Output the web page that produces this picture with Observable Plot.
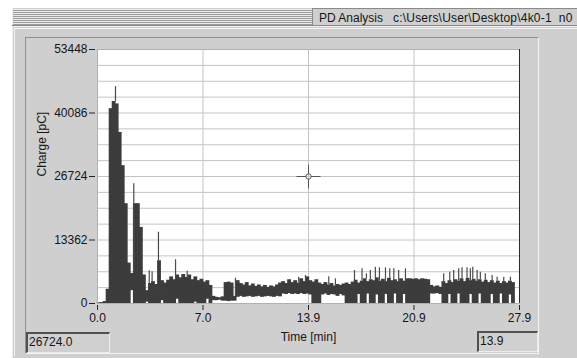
<!DOCTYPE html>
<html><head><meta charset="utf-8">
<script src="https://cdn.jsdelivr.net/npm/d3@7"></script>
<script src="https://cdn.jsdelivr.net/npm/@observablehq/plot@0.6"></script>
<style>
html,body{margin:0;padding:0;background:#fff;width:577px;height:358px;overflow:hidden;font-family:"Liberation Sans",Arial,sans-serif;color:#151515;}
.abs{position:absolute;box-sizing:border-box;}
.readout{background:#d0d0d0;border-top:2px solid #505050;border-left:2px solid #505050;border-right:1px solid #ececec;border-bottom:1px solid #ececec;font-size:12px;line-height:17px;padding-left:1px;color:#151515;}
</style></head><body>
<div class="abs" style="left:12px;top:8px;width:565px;height:350px;background:#cfcfcf;border-left:1px solid #ededed;"></div>
<div class="abs" style="left:13px;top:9px;width:299px;height:16px;background:repeating-linear-gradient(to bottom,#ebebeb 0 1px,#9c9c9c 1px 2px);"></div>
<div class="abs" style="left:312px;top:8px;width:265px;height:18px;border-left:1px solid #8a8a8a;border-top:1px solid #8a8a8a;background:#cfcfcf;overflow:hidden;white-space:pre;font-size:12px;line-height:14px;">
  <span class="abs" id="t1" style="left:6px;top:2px;"></span><span class="abs" id="t2" style="left:80px;top:2px;letter-spacing:0.2px;"></span>
</div>
<div class="abs" style="left:12px;top:25px;width:565px;height:1px;background:#8a8a8a;"></div>
<div class="abs" style="left:12px;top:26px;width:565px;height:1px;background:#f0f0f0;"></div>
<div class="abs" style="left:14px;top:28px;width:563px;height:328px;border-left:1px solid #f3f3f3;border-top:1px solid #f3f3f3;"></div>
<div class="abs" style="left:25px;top:37px;width:514px;height:317px;border-top:1px solid #8e8e8e;border-left:1px solid #8e8e8e;border-right:1px solid #f3f3f3;border-bottom:1px solid #f3f3f3;"></div>
<div id="chart" class="abs" style="left:0;top:0;"></div>
<div class="abs readout" id="r1" style="left:26px;top:332px;width:84px;height:21px;"></div>
<div class="abs readout" id="r2" style="left:477px;top:331px;width:61px;height:21px;"></div>
<script>
// ---- data ----
const windowTitle = "PD Analysis";
const filePath = "c:\\Users\\User\\Desktop\\4k0-1  n0";
const xLabel = "Time [min]";
const yLabel = "Charge [pC]";
const xTicks = [0, 6.975, 13.95, 20.925, 27.9];
const xTickLabels = ["0.0", "7.0", "13.9", "20.9", "27.9"];
const yTicks = [0, 13362, 26724, 40086, 53448];
const yTickLabels = ["0", "13362", "26724", "40086", "53448"];
const yMinorDivisions = 16;
const binWidth = 0.2; // minutes per bin
// upper edge of charge envelope per bin [pC]
const chargeHigh = [
150,200,400,3000,41000,42500,42000,36000,29000,21000,
8500,6300,21000,21000,16000,6000,2700,4200,4600,4000,
9000,4800,4300,4900,5600,5000,6000,5400,6100,5500,
6000,5000,5600,4800,5100,4500,4800,3800,1500,1300,
1200,1400,4400,4500,4300,1500,4800,4200,3900,4400,
3700,4100,3600,3900,3500,3800,3400,3700,3500,3900,
4300,4600,4200,5000,4400,4800,4300,5200,4600,5600,
4800,4500,5000,4300,4000,4400,3900,4200,3700,4000,
3800,4100,4300,4000,4500,4900,4300,4700,5200,4600,
5000,4800,5400,4700,5100,4600,5300,4800,5000,4600,
5200,4700,5200,5200,5100,5200,5000,5200,5100,5000,
3800,3500,3700,3400,4600,4200,4800,4400,5000,4700,
5200,4600,5300,4800,5100,4700,5000,4500,4900,4400,
4800,4300,4700,4200,4600,4300,4700,4400
];
// lower edge of charge envelope per bin [pC]
const chargeLow = [
0,0,0,0,0,0,0,0,0,0,
0,2700,0,0,0,0,300,0,0,0,
0,600,0,0,0,0,900,0,0,0,
0,0,300,0,0,0,900,0,600,600,
700,500,500,400,500,500,1300,1500,1300,1400,
1500,1300,1400,1500,1300,1400,1500,1400,1300,1500,
1400,2000,1900,2100,1900,2000,1900,2100,1900,2000,
1800,0,0,0,1800,2000,1700,1900,1800,1500,
1900,1600,0,0,0,0,1900,0,0,2000,
0,0,1800,0,0,1900,0,0,2000,0,
0,1900,0,0,0,0,0,0,0,0,
2000,2000,2100,1900,0,0,1900,0,0,2000,
0,0,0,1900,0,0,2000,0,0,0,
1900,0,0,2000,0,0,1800,0
];
// isolated narrow spikes
const spikeTime = [1.19,1.56,2.40,3.42,3.61,4.03,5.16,5.93,9.12,13.3,13.75,15.29,15.73,16.99,17.49,17.78,18.04,18.37,18.64,19.04,19.32,19.59,19.91,20.36,22.89,23.29,23.55,23.88,24.1,24.43,24.65,24.81,25.1,25.31,25.64,26.09,26.42,26.86,27.3];
const spikeCharge = [45650,35000,25200,6900,6700,15000,9200,6800,5300,5540,5890,5650,5190,6940,7290,6240,6940,7640,7500,7500,7290,7290,6940,7290,6240,6590,6940,7290,7500,7500,7290,7640,6940,6590,6240,5890,5540,5540,5540];
const cursorTime = 13.95;
const cursorCharge = 26724;

// ---- build ----
const bins = chargeHigh.map((h, i) => ({t0: i * binWidth, t1: (i + 1) * binWidth, hi: h, lo: chargeLow[i]}));
const spikes = spikeTime.map((t, i) => {
  const b = bins[Math.min(bins.length - 1, Math.floor(t / binWidth))];
  return {t, v: spikeCharge[i], base: Math.min(b.hi, spikeCharge[i])};
});
const yGrid = d3.range(yMinorDivisions + 1).map(i => i * yTicks[yTicks.length - 1] / yMinorDivisions);
const xFmt = new Map(xTicks.map((d, i) => [d, xTickLabels[i]]));
const yFmt = new Map(yTicks.map((d, i) => [d, yTickLabels[i]]));
const xMax = xTicks[xTicks.length - 1];
const crosshair = {draw(ctx) {
  ctx.moveTo(2.7, 0); ctx.arc(0, 0, 2.7, 0, 2 * Math.PI);
  ctx.moveTo(2.7, 0); ctx.lineTo(12, 0);
  ctx.moveTo(-2.7, 0); ctx.lineTo(-12, 0);
  ctx.moveTo(0, 2.7); ctx.lineTo(0, 12);
  ctx.moveTo(0, -2.7); ctx.lineTo(0, -12);
}};

const chart = Plot.plot({
  width: 577, height: 358,
  marginLeft: 97, marginRight: 58, marginTop: 49, marginBottom: 55,
  x: {domain: [0, xMax]},
  y: {domain: [0, yTicks[yTicks.length - 1]]},
  style: {background: "transparent", fontFamily: "'Liberation Sans',Arial,sans-serif", fontSize: "12px", color: "#151515", overflow: "visible"},
  marks: [
    Plot.frame({fill: "white", stroke: null}),
    Plot.ruleY(yGrid, {stroke: "#c4c4c4", strokeOpacity: 1}),
    Plot.ruleX(xTicks.slice(1, -1), {stroke: "#c4c4c4", strokeOpacity: 1}),
    Plot.rect(bins, {x1: "t0", x2: "t1", y1: "lo", y2: "hi", fill: "#3c3c3c", insetLeft: -0.4, insetRight: -0.4}),
    Plot.ruleX(spikes, {x: "t", y1: "base", y2: "v", stroke: "#4a4a4a", strokeWidth: 1.2}),
    Plot.frame({stroke: "#b0b0b0"}),
    Plot.ruleX([xMax], {stroke: "#2a2a2a"}),
    Plot.dot([{t: cursorTime, q: cursorCharge}], {x: "t", y: "q", symbol: crosshair, r: 3, stroke: "#555", fill: "none", strokeWidth: 1}),
    Plot.axisY({ticks: yTicks, tickFormat: d => yFmt.get(d), tickSize: 6, tickPadding: 2, dx: -2, label: null, fontSize: 12, stroke: "#222"}),
    Plot.axisX({ticks: xTicks, tickFormat: d => xFmt.get(d), tickSize: 5, tickPadding: 3, dy: 2, label: null, fontSize: 12, stroke: "#222"}),
    Plot.text([yLabel], {frameAnchor: "left", dx: -55, rotate: -90, fontSize: 12, fill: "#151515"}),
    Plot.text([xLabel], {frameAnchor: "bottom", dy: 37, fontSize: 12, fill: "#151515"})
  ]
});
document.getElementById("chart").appendChild(chart);
document.getElementById("t1").textContent = windowTitle;
document.getElementById("t2").textContent = filePath;
document.getElementById("r1").textContent = cursorCharge.toFixed(1);
document.getElementById("r2").textContent = cursorTime.toFixed(1);
</script>
</body></html>
